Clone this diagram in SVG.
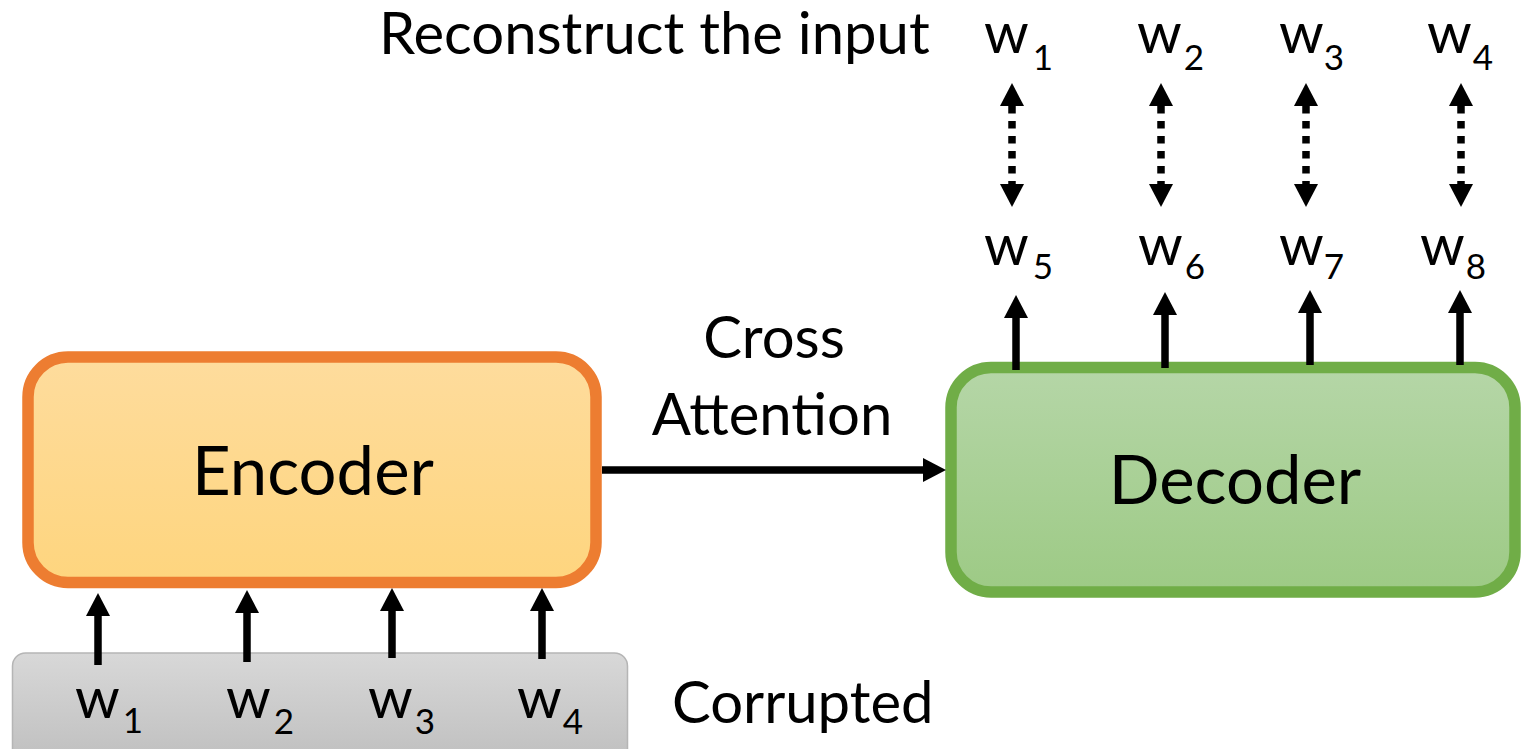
<svg xmlns="http://www.w3.org/2000/svg" width="1522" height="749" viewBox="0 0 1522 749">
  <defs>
    <linearGradient id="encFill" x1="0" y1="0" x2="0" y2="1">
      <stop offset="0" stop-color="#fedc9d"/>
      <stop offset="1" stop-color="#fed57e"/>
    </linearGradient>
    <linearGradient id="decFill" x1="0" y1="0" x2="0" y2="1">
      <stop offset="0" stop-color="#b5d6a7"/>
      <stop offset="1" stop-color="#9dca85"/>
    </linearGradient>
    <linearGradient id="tokFill" x1="0" y1="0" x2="0" y2="1">
      <stop offset="0" stop-color="#d8d8d8"/>
      <stop offset="1" stop-color="#bfbfbf"/>
    </linearGradient>
    <marker id="head" markerUnits="userSpaceOnUse" viewBox="0 0 23 24" refX="0" refY="12" markerWidth="23" markerHeight="24" orient="auto-start-reverse">
      <path d="M0,0 L23,12 L0,24 z" fill="#000"/>
    </marker>
  </defs>
  <style>
    text { font-family: Lato, "Open Sans", "Liberation Sans", sans-serif; fill: #000; }
    .lbl { font-size: 58px; }
    .big { font-size: 67px; }
    .w { font-size: 57px; }
    .sub { font-size: 35px; }
    .arrow { stroke: #000; stroke-width: 7.5; fill: none; marker-end: url(#head); }
    .dual { stroke: #000; stroke-width: 7.5; fill: none; stroke-dasharray: 7.5 7.5; marker-start: url(#head); marker-end: url(#head); }
  </style>

  <rect width="1522" height="749" fill="#fff"/>

  <!-- corrupted input tokens -->
  <g id="corrupted-tokens">
    <rect x="12.5" y="653" width="615" height="110" rx="13" fill="url(#tokFill)" stroke="#b5b5b5" stroke-width="1.5"/>
    <text class="w" x="75" y="718">w<tspan class="sub" dx="3" dy="15">1</tspan></text>
    <text class="w" x="226" y="718">w<tspan class="sub" dx="3" dy="16">2</tspan></text>
    <text class="w" x="368" y="718">w<tspan class="sub" dx="2" dy="16">3</tspan></text>
    <text class="w" x="517" y="718">w<tspan class="sub" dx="1" dy="16">4</tspan></text>
  </g>

  <g id="encoder">
    <rect x="28" y="357" width="568" height="225.5" rx="40" fill="url(#encFill)" stroke="#ed7d31" stroke-width="11.5"/>
    <text class="big" x="313" y="495" text-anchor="middle">Encoder</text>
  </g>

  <g id="decoder">
    <rect x="951" y="367.5" width="564" height="224.5" rx="40" fill="url(#decFill)" stroke="#70ad47" stroke-width="11.5"/>
    <text class="big" x="1235" y="504" text-anchor="middle">Decoder</text>
  </g>

  <g id="cross-attention-label">
    <text class="lbl" x="774" y="358" text-anchor="middle">Cross</text>
    <text class="lbl" x="772" y="435" text-anchor="middle">Attention</text>
  </g>

  <g id="corrupted-label">
    <text class="lbl" x="672" y="723">Corrupted</text>
  </g>

  <g id="reconstruct-label">
    <text class="lbl" x="379" y="54">Reconstruct the input</text>
  </g>

  <!-- reconstruction targets -->
  <g id="targets">
    <text class="w" x="984" y="53">w<tspan class="sub" dx="4" dy="17">1</tspan></text>
    <text class="w" x="1137" y="53">w<tspan class="sub" dx="2" dy="17">2</tspan></text>
    <text class="w" x="1279" y="53">w<tspan class="sub" dx="0" dy="17">3</tspan></text>
    <text class="w" x="1427" y="53">w<tspan class="sub" dx="1" dy="17">4</tspan></text>
  </g>

  <!-- decoder outputs -->
  <g id="outputs">
    <text class="w" x="984" y="265">w<tspan class="sub" dx="4" dy="14">5</tspan></text>
    <text class="w" x="1138" y="265">w<tspan class="sub" dx="2" dy="14">6</tspan></text>
    <text class="w" x="1279" y="265">w<tspan class="sub" dx="0" dy="14">7</tspan></text>
    <text class="w" x="1420" y="265">w<tspan class="sub" dx="1" dy="14">8</tspan></text>
  </g>

  <g id="connectors">
    <!-- token to encoder -->
    <path class="arrow" d="M98,665 V616"/>
    <path class="arrow" d="M247,662 V613"/>
    <path class="arrow" d="M392,658 V611"/>
    <path class="arrow" d="M542,659 V611"/>
    <!-- cross attention -->
    <path class="arrow" d="M602,470 H923" stroke-width="8"/>
    <!-- decoder to outputs -->
    <path class="arrow" d="M1016,370 V318"/>
    <path class="arrow" d="M1165,368 V315"/>
    <path class="arrow" d="M1310,365 V313"/>
    <path class="arrow" d="M1460,365 V313"/>
    <!-- output to target correspondence -->
    <path class="dual" d="M1012,106 V184"/>
    <path class="dual" d="M1161,106 V184"/>
    <path class="dual" d="M1306,106 V184"/>
    <path class="dual" d="M1461,106 V184"/>
  </g>
</svg>
